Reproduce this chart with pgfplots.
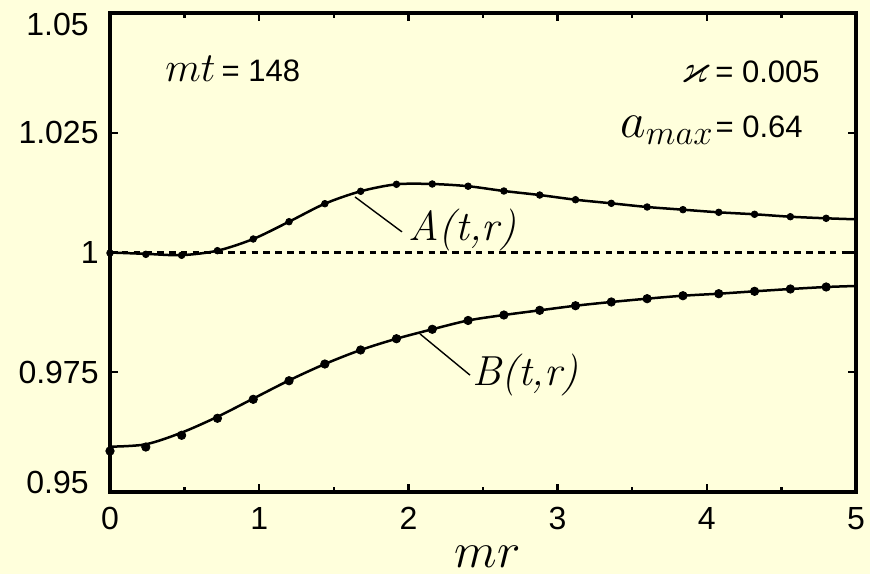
\documentclass[border=0pt]{standalone}
\usepackage{amssymb}
\usepackage{pgfplots}
\pgfplotsset{compat=1.18}
\usepackage{fontspec}
\newfontfamily\arial{Liberation Sans}
\definecolor{bg}{RGB}{255,255,220}
\begin{document}
\begin{tikzpicture}
\fill[bg] (-55pt,-41pt) rectangle (380pt,246pt);
\begin{axis}[
  at={(0,0)}, anchor=south west,
  scale only axis, width=373pt, height=239.5pt,
  xmin=0, xmax=5, ymin=0.95, ymax=1.05,
  clip=false,
  axis line style={line width=2pt},
  tick style={line width=1.2pt, black},
  tick align=inside,
  major tick length=4pt, minor tick length=2.5pt,
  xtick={0,1,2,3,4,5},
  xticklabels={0,1,2,3,4,5},
  minor xtick={0.5,1.5,2.5,3.5,4.5},
  ytick={0.95,0.975,1,1.025,1.05},
  yticklabels={\raisebox{5pt}[\height][\depth]{0.95\hspace{5pt}},0.975,1,1.025,\raisebox{-5.5pt}[\height][\depth]{1.05\hspace{5pt}}},
  ticklabel style={font=\arial\fontsize{16}{19}\selectfont, inner sep=0pt},
  xticklabel style={anchor=north, yshift=-7.5pt},
  yticklabel style={anchor=east, xshift=-5.5pt},
  xlabel={\fontsize{24}{28}\selectfont$mr$},
  xlabel style={at={(rel axis cs:0.506,0)}, anchor=base, yshift=-37.5pt, inner sep=0pt},
]
% dashed reference line
\addplot[black, line width=1.2pt, dash pattern=on 3.3pt off 2.6pt] coordinates {(0,1) (5,1)};
% A(t,r) curve
\addplot[black, line width=1.25pt, smooth] coordinates {
(0,1.00000) (0.24,0.99972) (0.48,0.99945) (0.72,1.00038) (0.96,1.00282) (1.2,1.00643)
(1.44,1.01019) (1.68,1.01278) (1.92,1.01424) (2.16,1.01430) (2.4,1.01384) (2.64,1.01284)
(2.88,1.01200) (3.12,1.01102) (3.36,1.01027) (3.6,1.00950) (3.84,1.00894) (4.08,1.00839)
(4.32,1.00798) (4.56,1.00747) (4.8,1.00714) (5,1.00693)};
% A(t,r) dots
\addplot[only marks, mark=*, mark size=1.65pt, black] coordinates {
(0,0.99990) (0.24,0.99962) (0.48,0.99942) (0.72,1.00038) (0.96,1.00282) (1.2,1.00643)
(1.44,1.01019) (1.68,1.01278) (1.92,1.01424) (2.16,1.01430) (2.4,1.01384) (2.64,1.01284)
(2.88,1.01200) (3.12,1.01102) (3.36,1.01027) (3.6,1.00950) (3.84,1.00894) (4.08,1.00839)
(4.32,1.00798) (4.56,1.00747) (4.8,1.00714)};
% B(t,r) curve
\addplot[black, line width=1.25pt, smooth] coordinates {
(0,0.95946) (0.24,0.95996) (0.48,0.96240) (0.72,0.96570) (0.96,0.96950) (1.2,0.97330)
(1.44,0.97672) (1.68,0.97965) (1.92,0.98200) (2.16,0.98397) (2.4,0.98581) (2.64,0.98695)
(2.88,0.98793) (3.12,0.98889) (3.36,0.98967) (3.6,0.99036) (3.84,0.99098) (4.08,0.99140)
(4.32,0.99190) (4.56,0.99238) (4.8,0.99280) (5,0.99301)};
% B(t,r) dots
\addplot[only marks, mark=*, mark size=2.1pt, black] coordinates {
(0,0.95856) (0.24,0.95939) (0.48,0.96184) (0.72,0.96539) (0.96,0.96935) (1.2,0.97323)
(1.44,0.97672) (1.68,0.97965) (1.92,0.98200) (2.16,0.98397) (2.4,0.98581) (2.64,0.98695)
(2.88,0.98793) (3.12,0.98889) (3.36,0.98967) (3.6,0.99036) (3.84,0.99098) (4.08,0.99140)
(4.32,0.99190) (4.56,0.99238) (4.8,0.99280)};
% leader lines
\draw[line width=0.7pt] (axis cs:1.642,1.0116) -- (axis cs:1.957,1.0043);
\draw[line width=0.7pt] (axis cs:2.078,0.9830) -- (axis cs:2.413,0.9744);
% curve labels
\node[anchor=base west, inner sep=0pt] at (axis cs:1.997,1.0026) {\fontsize{21}{25}\selectfont\itshape A(t,r)};
\node[anchor=base west, inner sep=0pt] at (axis cs:2.426,0.9723) {\fontsize{21}{25}\selectfont\itshape B(t,r)};
% annotations
\node[anchor=base west, inner sep=0pt] at (axis cs:0.369,1.0358) {\fontsize{22}{26}\selectfont$mt$\hspace{3pt}{\arial\fontsize{15.5}{18}\selectfont= 148}};
\node[anchor=base east, inner sep=0pt] at (axis cs:4.759,1.0354) {\fontsize{20}{24}\selectfont$\varkappa$\hspace{3pt}{\arial\fontsize{15.5}{18}\selectfont= 0.005}};
\node[anchor=base east, inner sep=0pt] at (axis cs:4.645,1.0241) {\fontsize{24}{28}\selectfont$a_{max}$\hspace{1pt}{\arial\fontsize{15.5}{18}\selectfont= 0.64}};
\end{axis}
\pgfresetboundingbox
\path (-55pt,-41pt) rectangle (380pt,246pt);
\end{tikzpicture}
\end{document}
